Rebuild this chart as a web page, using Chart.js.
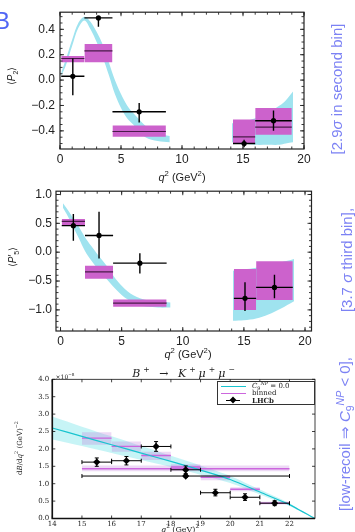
<!DOCTYPE html>
<html>
<head>
<meta charset="utf-8">
<script src="https://cdn.jsdelivr.net/npm/chart.js@4.4.1/dist/chart.umd.min.js"></script>
<style>
  body { margin: 0; width: 355px; height: 532px; overflow: hidden; position: relative; background: #fff;
         font-family: 'Liberation Sans', Arial, sans-serif; color: #222; }
  canvas { position: absolute; left: 0; }
  .lbl { position: absolute; white-space: nowrap; transform: translate(-50%, -50%); line-height: 1; }
  .rot { transform: translate(-50%, -50%) rotate(-90deg); }
  .note { color: #7c82f4; font-size: 15px; }
  .tex { font-family: 'DejaVu Serif', 'Liberation Serif', serif; }
  sup, sub { font-size: 70%; line-height: 0; }
  #leg { position: absolute; left: 217px; top: 381px; width: 96px; height: 22px; border: 1px solid #333; background: #fff; }
  #leg .row { position: absolute; left: 0; height: 7px; width: 96px; }
  #leg .smp { position: absolute; left: 3px; width: 25px; top: 3px; height: 0; }
  #leg .txt { position: absolute; left: 34px; top: -1px; font-size: 7px; }
</style>
</head>
<body>
<canvas id="p2Chart" width="355" height="190" style="top:0"></canvas>
<canvas id="p5Chart" width="355" height="175" style="top:180px"></canvas>
<canvas id="bkChart" width="355" height="172" style="top:360px"></canvas>

<div class="lbl" style="left:2px;top:21px;font-size:24px;color:#5065f5">B</div>
<div class="lbl rot" style="left:12px;top:76px;font-size:10px">⟨<i>P</i><sub>2</sub>⟩</div>
<div class="lbl" style="left:182px;top:177px;font-size:11px"><i>q</i><sup>2</sup> (GeV<sup>2</sup>)</div>
<div class="lbl rot" style="left:13px;top:257px;font-size:10px">⟨<i>P</i>′<sub>5</sub>⟩</div>
<div class="lbl" style="left:188px;top:354px;font-size:11px"><i>q</i><sup>2</sup> (GeV<sup>2</sup>)</div>

<div class="lbl tex" style="left:185px;top:373px;font-size:11px;font-style:italic;letter-spacing:3px">B<sup>+</sup> → K<sup>+</sup>μ<sup>+</sup>μ<sup>−</sup></div>
<div class="lbl tex" style="left:65px;top:377px;font-size:6px">×10<sup>−8</sup></div>
<div class="lbl tex rot" style="left:20px;top:448px;font-size:7px">d<i>B</i>/d<i>q</i><sup>2</sup> (GeV)<sup>−2</sup></div>
<div class="lbl tex" style="left:180px;top:530px;font-size:8px"><i>q</i><sup>2</sup> (GeV)<sup>2</sup></div>

<div id="leg" class="tex">
  <div class="row" style="top:1px"><div class="smp" style="border-top:1.2px solid #18c4cf"></div><div class="txt"><i>C</i><sub>9</sub><sup><i>NP</i></sup> = 0.0</div></div>
  <div class="row" style="top:8px"><div class="smp" style="border-top:1.2px solid #cc66dd"></div><div class="txt">binned</div></div>
  <div class="row" style="top:15px"><div class="smp" style="border-top:1px solid #000;left:8px;width:14px"></div>
    <div style="position:absolute;left:12px;top:0;width:6px;height:6px;background:#000;transform:rotate(45deg) scale(0.8)"></div>
    <div class="txt" style="font-weight:bold">LHCb</div></div>
</div>

<div class="lbl rot note" style="left:336px;top:89px">[2.9<i>σ</i> in second bin]</div>
<div class="lbl rot note" style="left:346px;top:260px">[3.7 <i>σ</i> third bin],</div>
<div class="note" style="position:absolute;left:337px;top:557px;width:200px;text-align:right;white-space:nowrap;transform:rotate(-90deg);transform-origin:left top;line-height:1">[low-recoil ⇒ <i>C</i><sub>9</sub><sup><i>NP</i></sup> &lt; 0],</div>

<script>
// ---- angular observables, bins in q2 (GeV^2) ----
const ANG_BINS = [[0.1, 2], [2, 4.3], [4.3, 8.68], [14.18, 16], [16, 19]];
const ANG_CENTERS = [1.05, 3.15, 6.49, 15.09, 17.5];
const Q2_TICKS = [0, 5, 10, 15, 20];

// <P2>
const P2_TICKS = [-0.4, -0.2, 0, 0.2, 0.4];
const P2_DATA = [0.03, 0.49, -0.25, -0.50, -0.32];
const P2_DATA_LO = [-0.12, 0.42, -0.335, -0.53, -0.40];
const P2_DATA_HI = [0.17, 0.50, -0.18, -0.47, -0.24];
const P2_BIN_MID = [0.17, 0.23, -0.405, -0.447, -0.37];
const P2_BIN_LO = [0.14, 0.14, -0.447, -0.50, -0.43];
const P2_BIN_HI = [0.19, 0.285, -0.357, -0.31, -0.22];
const P2_LOW_Q2 = [0.1, 0.5, 1, 1.5, 2, 2.5, 3, 3.5, 4, 4.5, 5, 5.5, 6, 6.5, 7, 7.5, 8, 9];
const P2_LOW_UP = [0.06, 0.17, 0.32, 0.45, 0.50, 0.46, 0.38, 0.28, 0.14, 0.00, -0.11, -0.20, -0.26, -0.31, -0.36, -0.39, -0.42, -0.44];
const P2_LOW_DN = [0.03, 0.12, 0.27, 0.41, 0.47, 0.40, 0.30, 0.18, 0.04, -0.11, -0.22, -0.30, -0.35, -0.41, -0.45, -0.47, -0.48, -0.49];
const P2_HIGH_Q2 = [14.1, 15, 16, 17, 18, 18.5, 19.1];
const P2_HIGH_UP = [-0.34, -0.33, -0.30, -0.26, -0.20, -0.16, -0.09];
const P2_HIGH_DN = [-0.49, -0.50, -0.51, -0.51, -0.51, -0.50, -0.49];

// <P5'>
const P5_TICKS = [-1, -0.5, 0, 0.5, 1];
const P5_DATA = [0.46, 0.29, -0.19, -0.80, -0.61];
const P5_DATA_LO = [0.20, -0.11, -0.37, -1.02, -0.80];
const P5_DATA_HI = [0.66, 0.70, -0.02, -0.52, -0.39];
const P5_BIN_MID = [0.535, -0.34, -0.884, null, null];
const P5_BIN_LO = [0.46, -0.46, -0.946, -1.0, -0.83];
const P5_BIN_HI = [0.574, -0.236, -0.82, -0.29, -0.157];
const P5_LOW_Q2 = [0.2, 0.5, 1, 1.5, 2, 2.5, 3, 3.5, 4, 4.5, 5, 5.5, 6, 6.5, 7, 7.5, 8, 9];
const P5_LOW_UP = [0.85, 0.76, 0.60, 0.44, 0.26, 0.11, -0.03, -0.16, -0.30, -0.46, -0.58, -0.68, -0.75, -0.80, -0.83, -0.85, -0.86, -0.87];
const P5_LOW_DN = [0.77, 0.66, 0.45, 0.24, 0.02, -0.14, -0.28, -0.40, -0.52, -0.64, -0.74, -0.82, -0.88, -0.92, -0.94, -0.95, -0.96, -0.96];
const P5_HIGH_Q2 = [14.1, 15, 16, 17, 18, 19.1];
const P5_HIGH_UP = [-0.32, -0.30, -0.27, -0.23, -0.18, -0.12];
const P5_HIGH_DN = [-1.19, -1.18, -1.15, -1.08, -0.98, -0.85];

// dB/dq2 for B+ -> K+ mu mu (units 1e-8)
const BK_X_TICKS = [14, 15, 16, 17, 18, 19, 20, 21, 22];
const BK_Y_TICKS = [0, 0.5, 1, 1.5, 2, 2.5, 3, 3.5, 4];
const SM_Q2 = [14, 15, 16, 17, 18, 19, 20, 21, 22, 22.3, 22.6, 22.86];
const SM_CENTRAL = [2.60, 2.36, 2.12, 1.88, 1.64, 1.39, 1.12, 0.76, 0.40, 0.26, 0.12, 0.0];
const SM_UP = [2.93, 2.64, 2.36, 2.08, 1.80, 1.52, 1.22, 0.83, 0.44, 0.28, 0.13, 0.0];
const SM_DN = [2.27, 2.08, 1.88, 1.68, 1.48, 1.26, 1.02, 0.69, 0.36, 0.24, 0.11, 0.0];
const BINNED_BINS = [[15, 16], [16, 17], [17, 18], [18, 19], [19, 20], [20, 21], [21, 22], [15, 22]];
const BINNED_VAL = [2.31, 2.07, 1.81, 1.48, 1.18, 0.84, 0.44, 1.43];
const BINNED_LO = [2.12, 1.92, 1.68, 1.40, 1.10, 0.78, 0.40, 1.36];
const BINNED_HI = [2.48, 2.21, 1.92, 1.56, 1.25, 0.90, 0.48, 1.52];
const LHCB_X = [15.5, 16.5, 17.5, 18.5, 19.5, 20.5, 21.5, 18.5];
const LHCB_BINS = [[15, 16], [16, 17], [17, 18], [18, 19], [19, 20], [20, 21], [21, 22], [15, 22]];
const LHCB_Y = [1.62, 1.66, 2.07, 1.40, 0.74, 0.61, 0.44, 1.22];
const LHCB_LO = [1.50, 1.54, 1.93, 1.29, 0.65, 0.52, 0.37, 1.18];
const LHCB_HI = [1.74, 1.78, 2.21, 1.51, 0.84, 0.71, 0.51, 1.27];

Chart.defaults.animation = false;
Chart.defaults.events = [];
Chart.defaults.plugins.legend.display = false;
Chart.defaults.plugins.tooltip.enabled = false;

const steps = (a, b, s) => Array.from({length: Math.round((b - a) / s) + 1}, (_, i) => +(a + i * s).toFixed(6));

// inward ticks on all four sides plus the frame
const frameTicks = {
    id: 'frameTicks',
    afterDatasetsDraw(chart, args, o) {
        const {ctx, chartArea: a} = chart;
        const sx = chart.scales.x, sy = chart.scales.y;
        ctx.save();
        ctx.strokeStyle = o.color;
        ctx.lineWidth = o.tickWidth;
        ctx.beginPath();
        const xm = (vals, len) => vals.forEach(v => {
            const p = sx.getPixelForValue(v);
            if (p < a.left - 0.5 || p > a.right + 0.5) return;
            ctx.moveTo(p, a.bottom); ctx.lineTo(p, a.bottom - len);
            ctx.moveTo(p, a.top); ctx.lineTo(p, a.top + len);
        });
        const ym = (vals, len) => vals.forEach(v => {
            const p = sy.getPixelForValue(v);
            if (p < a.top - 0.5 || p > a.bottom + 0.5) return;
            ctx.moveTo(a.left, p); ctx.lineTo(a.left + len, p);
            ctx.moveTo(a.right, p); ctx.lineTo(a.right - len, p);
        });
        xm(o.xMinor || [], o.minor); ym(o.yMinor || [], o.minor);
        xm(o.xMajor, o.major); ym(o.yMajor, o.major);
        ctx.stroke();
        ctx.lineWidth = o.frame;
        ctx.strokeRect(a.left, a.top, a.right - a.left, a.bottom - a.top);
        if (o.spine) {
            ctx.lineWidth = o.spine;
            ctx.beginPath();
            ctx.moveTo(a.left, a.top); ctx.lineTo(a.left, a.bottom); ctx.lineTo(a.right, a.bottom);
            ctx.stroke();
        }
        ctx.restore();
    }
};

function linAxis(min, max, ticks, size, fmt, font, pad) {
    return {
        type: 'linear', min, max,
        afterBuildTicks: s => { s.ticks = ticks.map(value => ({value})); },
        afterFit: s => { if (s.isHorizontal()) s.height = size; else s.width = size; },
        grid: {display: false, drawTicks: false},
        border: {display: false},
        ticks: {callback: fmt, font, color: '#222', padding: pad, maxRotation: 0, autoSkip: false}
    };
}

const signed = v => v.toFixed(1).replace('-', '\u2212');
const whole = v => String(v);

function bandSets(q2, up, dn, color, order, tension) {
    return [
        {data: q2.map((x, i) => ({x, y: up[i]})), fill: '+1', backgroundColor: color, borderColor: 'transparent', borderWidth: 0, pointRadius: 0, tension, order},
        {data: q2.map((x, i) => ({x, y: dn[i]})), fill: false, borderColor: 'transparent', borderWidth: 0, pointRadius: 0, tension, order}
    ];
}

function boxSets(bins, lo, hi, color, order) {
    const out = [];
    bins.forEach((b, i) => {
        out.push(...bandSets(b, [hi[i], hi[i]], [lo[i], lo[i]], color, order, 0));
    });
    return out;
}

function hBars(bins, ys) {
    const d = [];
    bins.forEach((b, i) => d.push({x: b[0], y: ys[i]}, {x: b[1], y: ys[i]}, {x: b[1], y: null}));
    return d;
}

function vBars(xs, lo, hi) {
    const d = [];
    xs.forEach((x, i) => d.push({x, y: lo[i]}, {x, y: hi[i]}, {x, y: null}));
    return d;
}

const BAND = '#9fe3ef';
const BOX = '#cc62cc';
const MID = 'rgba(50, 15, 50, 0.85)';
const sansTicks = {family: "'Liberation Sans', Arial, sans-serif", size: 12};

function angularChart(id, o) {
    new Chart(document.getElementById(id), {
        type: 'line',
        data: {
            datasets: [
                {data: ANG_CENTERS.map((x, i) => ({x, y: o.data[i]})), showLine: false, pointRadius: 2.6, pointBackgroundColor: '#000', pointBorderWidth: 0, order: 1},
                {data: hBars(ANG_BINS, o.data), borderColor: '#000', borderWidth: 1.4, pointRadius: 0, spanGaps: false, order: 2},
                {data: vBars(ANG_CENTERS, o.lo, o.hi), borderColor: '#000', borderWidth: 1.4, pointRadius: 0, spanGaps: false, order: 2},
                {data: hBars(ANG_BINS, o.mid), borderColor: MID, borderWidth: 1.2, pointRadius: 0, spanGaps: false, order: 3},
                ...boxSets(ANG_BINS, o.binLo, o.binHi, BOX, 4),
                ...bandSets(o.lowQ2, o.lowUp, o.lowDn, BAND, 5, 0.35),
                ...bandSets(o.highQ2, o.highUp, o.highDn, BAND, 5, 0.35)
            ]
        },
        options: {
            responsive: false,
            layout: {padding: o.padding},
            scales: {
                x: linAxis(o.xMin, o.xMax, Q2_TICKS, o.xHeight, whole, sansTicks, 3),
                y: linAxis(o.yMin, o.yMax, o.yTicks, o.yWidth, signed, sansTicks, o.yPad)
            },
            plugins: {
                frameTicks: {color: '#222', tickWidth: 0.9, frame: 1.2, major: 4, minor: 2.5,
                    xMajor: Q2_TICKS, xMinor: steps(0, 20, 1), yMajor: o.yTicks, yMinor: o.yMinor}
            }
        },
        plugins: [frameTicks]
    });
}

angularChart('p2Chart', {
    data: P2_DATA, lo: P2_DATA_LO, hi: P2_DATA_HI, mid: P2_BIN_MID, binLo: P2_BIN_LO, binHi: P2_BIN_HI,
    lowQ2: P2_LOW_Q2, lowUp: P2_LOW_UP, lowDn: P2_LOW_DN, highQ2: P2_HIGH_Q2, highUp: P2_HIGH_UP, highDn: P2_HIGH_DN,
    xMin: 0, xMax: 20, yMin: -0.543, yMax: 0.535, yTicks: P2_TICKS, yMinor: steps(-0.5, 0.5, 0.05),
    padding: {left: 0, right: 51, top: 10, bottom: 0}, xHeight: 41, yWidth: 60, yPad: 5
});

angularChart('p5Chart', {
    data: P5_DATA, lo: P5_DATA_LO, hi: P5_DATA_HI, mid: P5_BIN_MID, binLo: P5_BIN_LO, binHi: P5_BIN_HI,
    lowQ2: P5_LOW_Q2, lowUp: P5_LOW_UP, lowDn: P5_LOW_DN, highQ2: P5_HIGH_Q2, highUp: P5_HIGH_UP, highDn: P5_HIGH_DN,
    xMin: -0.37, xMax: 20.53, yMin: -1.366, yMax: 1.057, yTicks: P5_TICKS, yMinor: steps(-1.3, 1.0, 0.1),
    padding: {left: 0, right: 43.5, top: 7.3, bottom: 0}, xHeight: 24, yWidth: 56, yPad: 4
});

const serifTicks = {family: "'DejaVu Serif', 'Liberation Serif', serif", size: 7};

new Chart(document.getElementById('bkChart'), {
    type: 'line',
    data: {
        datasets: [
            {data: LHCB_X.map((x, i) => ({x, y: LHCB_Y[i]})), showLine: false, pointStyle: 'rectRot', pointRadius: 3.6,
                pointBackgroundColor: '#000', pointBorderWidth: 0, order: 1},
            {data: hBars(LHCB_BINS, LHCB_Y), borderColor: '#000', borderWidth: 1, spanGaps: false,
                pointStyle: 'line', pointRadius: 2, pointRotation: 90, pointBorderColor: '#000', pointBorderWidth: 1, order: 2},
            {data: vBars(LHCB_X, LHCB_LO, LHCB_HI), borderColor: '#000', borderWidth: 1.2, spanGaps: false,
                pointStyle: 'line', pointRadius: 2, pointRotation: 0, pointBorderColor: '#000', pointBorderWidth: 1, order: 2},
            {data: SM_Q2.map((x, i) => ({x, y: SM_CENTRAL[i]})), borderColor: '#18c4cf', borderWidth: 1.2, pointRadius: 0, tension: 0.3, order: 3},
            {data: hBars(BINNED_BINS, BINNED_VAL), borderColor: '#cc66dd', borderWidth: 1.3, pointRadius: 0, spanGaps: false, order: 4},
            ...boxSets(BINNED_BINS, BINNED_LO, BINNED_HI, 'rgba(190, 120, 220, 0.28)', 5),
            ...bandSets(SM_Q2, SM_UP, SM_DN, 'rgba(0, 205, 215, 0.22)', 6, 0.3)
        ]
    },
    options: {
        responsive: false,
        layout: {padding: {left: 0, right: 40, top: 19.3, bottom: 0}},
        scales: {
            x: linAxis(14, 22.86, BK_X_TICKS, 13.5, whole, serifTicks, 1),
            y: linAxis(0, 4, BK_Y_TICKS, 52.3, v => v.toFixed(1), serifTicks, 3)
        },
        plugins: {
            frameTicks: {color: '#111', tickWidth: 0.8, frame: 0.8, spine: 1.6, major: 3, minor: 0,
                xMajor: BK_X_TICKS, yMajor: BK_Y_TICKS}
        }
    },
    plugins: [frameTicks]
});
</script>
</body>
</html>
